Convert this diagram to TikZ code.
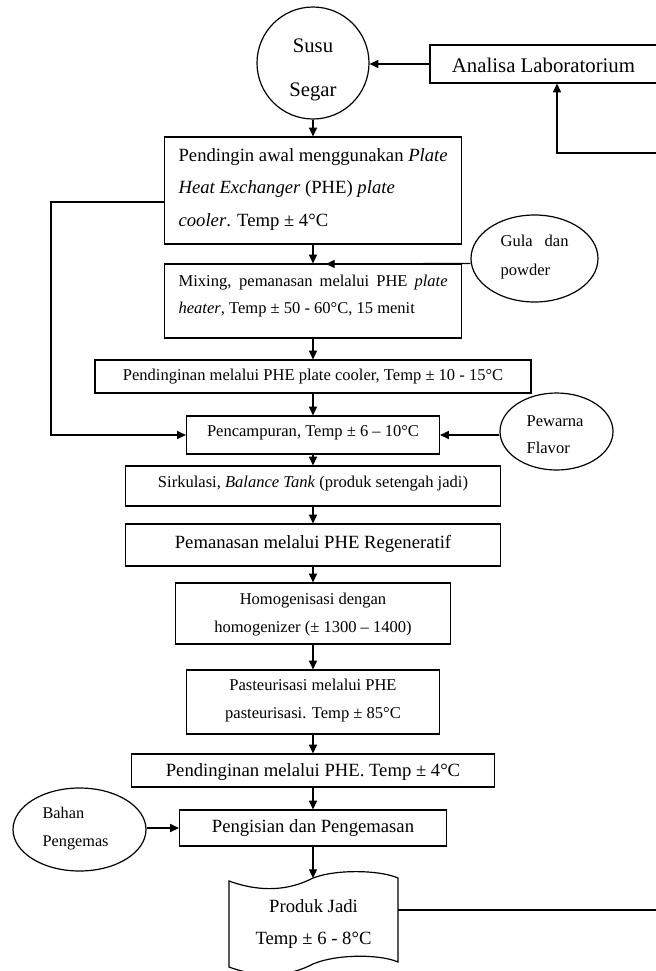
\documentclass[tikz,border=0pt]{standalone}
\usepackage{fontspec}
\setmainfont{Liberation Serif}
\usetikzlibrary{arrows.meta,shapes.geometric}
\newcommand\myfs[2]{\fontsize{#1pt}{#2pt}\selectfont}
\begin{document}
\begin{tikzpicture}[x=0.75pt,y=-0.75pt,
  line width=0.9pt,
  arr/.style={-{Triangle[length=6.5pt,width=6pt]}},
  box/.style={draw,rectangle,inner sep=0pt},
  oval/.style={draw,ellipse,inner sep=0pt},
  txt/.style={inner sep=0pt,align=center},
  ltxt/.style={inner sep=0pt,align=left}]
\fill[white] (0,0) rectangle (656,971);
\useasboundingbox (0,0) rectangle (656,971);

% nodes
\node[draw,circle,inner sep=0pt,minimum size=84pt] (susu) at (313,63) {};
\node[txt,font=\myfs{15.5}{33}] (susuT) at (313,70) {Susu\\Segar};

\node[box,minimum width=171pt,minimum height=28.5pt] (ana) at (544,64) {};
\node[txt,font=\myfs{15.6}{18}] (anaT) at (543.5,65) {Analisa Laboratorium};

\node[box,minimum width=222.75pt,minimum height=80.25pt] (pend) at (313,190.5) {};
\node[ltxt,anchor=west,font=\myfs{14}{24.4}] (pendT) at (178,189.5)
  {Pendingin awal menggunakan \textit{Plate}\\\textit{Heat Exchanger} (PHE) \textit{plate}\\\textit{cooler}. Temp ± 4°C};

\node[box,minimum width=222.75pt,minimum height=55.5pt] (mix) at (313,301) {};
\node[ltxt,anchor=west,font=\myfs{12.4}{20.25}] (mixT) at (178,296.5)
  {\makebox[201.75pt][s]{Mixing, pemanasan melalui PHE \textit{plate}}\\\textit{heater}, Temp ± 50 - 60°C, 15 menit};

\node[oval,minimum width=95.25pt,minimum height=65.25pt] (gula) at (534.5,258.5) {};
\node[ltxt,anchor=west,font=\myfs{12.4}{21.75}] (gulaT) at (500,257.5)
  {\makebox[51pt][s]{Gula dan}\\powder};

\node[box,minimum width=327pt,minimum height=24.75pt] (cool) at (313,376.5) {};
\node[txt,font=\myfs{12.4}{15}] (coolT) at (313,377)
  {Pendinginan melalui PHE plate cooler, Temp ± 10 - 15°C};

\node[box,minimum width=189.75pt,minimum height=28.5pt] (camp) at (313,435) {};
\node[txt,font=\myfs{12.4}{15}] (campT) at (313,433) {Pencampuran, Temp ± 6 – 10°C};

\node[oval,minimum width=84.75pt,minimum height=57.75pt] (pew) at (556.5,431.5) {};
\node[ltxt,anchor=west,font=\myfs{12.4}{20.25}] (pewT) at (526,434.5) {Pewarna\\Flavor};

\node[box,minimum width=281.25pt,minimum height=30pt] (sirk) at (313,486) {};
\node[txt,font=\myfs{12.4}{15}] (sirkT) at (313,484)
  {Sirkulasi, \textit{Balance Tank} (produk setengah jadi)};

\node[box,minimum width=281.25pt,minimum height=31.5pt] (pem) at (313,545) {};
\node[txt,font=\myfs{14}{17}] (pemT) at (313,544) {Pemanasan melalui PHE Regeneratif};

\node[box,minimum width=206.25pt,minimum height=45.75pt] (homo) at (313,613.5) {};
\node[txt,font=\myfs{12.4}{20.5}] (homoT) at (313,614.5)
  {Homogenisasi dengan\\homogenizer (± 1300 – 1400)};

\node[box,minimum width=189.75pt,minimum height=48pt] (past) at (313,702) {};
\node[txt,font=\myfs{12.4}{21}] (pastT) at (313,701)
  {Pasteurisasi melalui PHE\\pasteurisasi. Temp ± 85°C};

\node[box,minimum width=272.25pt,minimum height=24.75pt] (pdn) at (313,770.5) {};
\node[txt,font=\myfs{14}{17}] (pdnT) at (313,772) {Pendinginan melalui PHE. Temp ± 4°C};

\node[box,minimum width=200.25pt,minimum height=27pt] (isi) at (313,828) {};
\node[txt,font=\myfs{14}{17}] (isiT) at (313,828) {Pengisian dan Pengemasan};

\node[oval,minimum width=99.75pt,minimum height=62.25pt] (bahan) at (79.5,829.5) {};
\node[ltxt,anchor=west,font=\myfs{12.2}{21}] (bahanT) at (42,829) {Bahan\\Pengemas};

% product (tape shape)
\draw (229,881) -- (229,967)
  .. controls (262,979) and (290,976) .. (313,964)
  .. controls (336,954) and (380,954) .. (398,962)
  -- (398,878)
  .. controls (380,870) and (336,869) .. (313,878)
  .. controls (290,890) and (262,893) .. (229,881) -- cycle;
\node[txt,font=\myfs{14}{24}] (prodT) at (313.5,924) {Produk Jadi\\Temp ± 6 - 8°C};
\coordinate (prodtop) at (313,878);
\coordinate (prodR) at (398,910);

% connectors
\draw[arr] (ana.west) -- (ana.west -| susu.east);
\draw[arr] (susu.south) -- (pend.north);
\draw[arr] (pend.south) -- (mix.north);
\coordinate (gtip) at (326,264);
\draw[arr] (gula.west |- mix.north) -- (gtip);
\draw[arr] (mix.south) -- (cool.north);
\draw[arr] (cool.south) -- (camp.north);
\coordinate (bp) at (51,202);
\draw[arr] (bp -| pend.west) -- (bp) |- (camp.west);
\draw[arr] (camp.east -| pew.west) -- (camp.east);
\draw[arr] (camp.south) -- (sirk.north);
\draw[arr] (sirk.south) -- (pem.north);
\draw[arr] (pem.south) -- (homo.north);
\draw[arr] (homo.south) -- (past.north);
\draw[arr] (past.south) -- (pdn.north);
\draw[arr] (pdn.south) -- (isi.north);
\draw[arr] (isi.west -| bahan.east) -- (isi.west);
\draw[arr] (isi.south) -- (prodtop);
\coordinate (fb1) at (658,910);
\coordinate (fb2) at (658,153);
\coordinate (fb3) at (557,153);
\draw[arr] (prodR) -- (fb1) -- (fb2) -- (fb3) -- (fb3 |- ana.south);
\end{tikzpicture}
\end{document}
